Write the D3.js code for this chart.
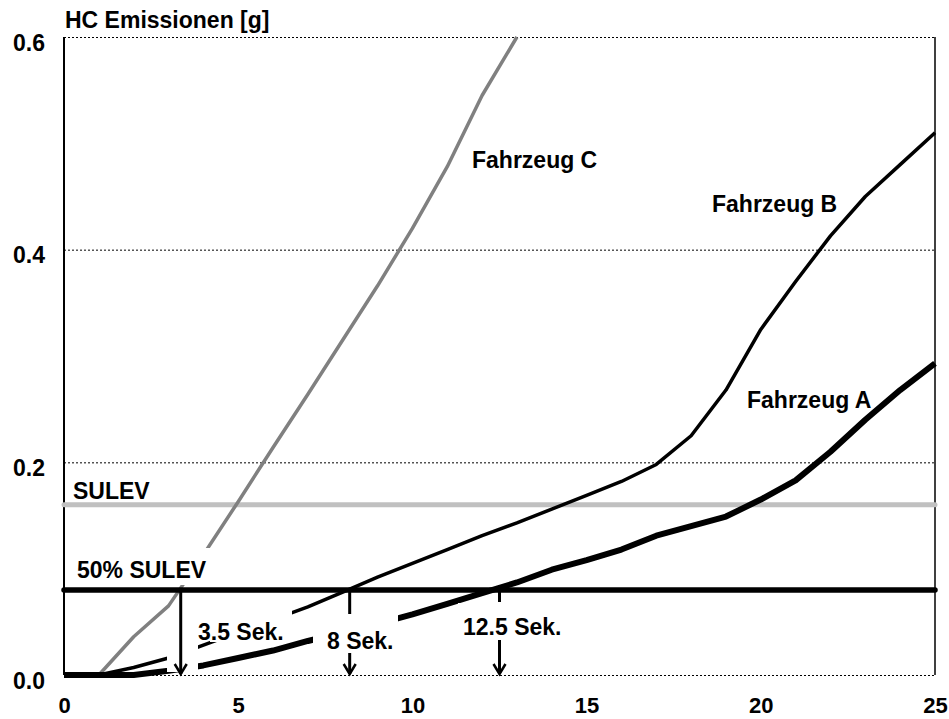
<!DOCTYPE html>
<html>
<head>
<meta charset="utf-8">
<script src="https://cdn.jsdelivr.net/npm/d3@7"></script>
<style>
  body { margin: 0; background: #fff; }
  svg text { font-family: "Liberation Sans", Arial, sans-serif; font-weight: bold; fill: #000; }
</style>
</head>
<body>
<svg id="chart" width="949" height="719"></svg>
<script>
// time in seconds
const seconds = d3.range(0, 26);

const fahrzeugA = [0, 0, 0, 0.004, 0.009, 0.016, 0.023, 0.032, 0.04, 0.048, 0.057, 0.067, 0.077,
  0.087, 0.099, 0.108, 0.118, 0.131, 0.14, 0.149, 0.165, 0.183, 0.21, 0.24, 0.268, 0.293];
const fahrzeugB = [0, 0, 0.007, 0.016, 0.028, 0.04, 0.052, 0.064, 0.078, 0.092, 0.105, 0.118, 0.131,
  0.143, 0.156, 0.169, 0.182, 0.198, 0.225, 0.268, 0.325, 0.37, 0.413, 0.45, 0.48, 0.51];
const fahrzeugC = [0, 0, 0.036, 0.065, 0.113, 0.163, 0.214, 0.264, 0.315, 0.366, 0.42, 0.478, 0.545, 0.6];

const sulev = 0.16;
const halfSulev = 0.08;

const crossTimes = [3.35, 8.2, 12.5];
const crossLabels = ["3.5 Sek.", "8 Sek.", "12.5 Sek."];

const yTicks = [0, 0.2, 0.4, 0.6];
const xTicks = [0, 5, 10, 15, 20, 25];

const svg = d3.select("#chart");
const margin = { top: 37, right: 14, bottom: 44, left: 64 };
const width = 949;
const height = 719;

const x = d3.scaleLinear().domain([0, 25]).range([margin.left, width - margin.right]);
const y = d3.scaleLinear().domain([0, 0.6]).range([height - margin.bottom, margin.top]);

// dotted grid lines (incl. top and bottom border)
svg.append("g")
  .selectAll("line")
  .data(yTicks)
  .join("line")
  .attr("x1", x(0))
  .attr("x2", x(25))
  .attr("y1", (d) => y(d) + 0.5)
  .attr("y2", (d) => y(d) + 0.5)
  .attr("stroke", "#000")
  .attr("stroke-width", 1)
  .attr("stroke-dasharray", "2,2");

// left and right border
svg.append("line")
  .attr("x1", x(0)).attr("x2", x(0))
  .attr("y1", y(0.6)).attr("y2", y(0))
  .attr("stroke", "#000").attr("stroke-width", 2);
svg.append("line")
  .attr("x1", x(25)).attr("x2", x(25))
  .attr("y1", y(0.6)).attr("y2", y(0))
  .attr("stroke", "#000").attr("stroke-width", 1.5);

// limit lines
svg.append("line")
  .attr("x1", x(0)).attr("x2", x(25))
  .attr("y1", y(sulev)).attr("y2", y(sulev))
  .attr("stroke", "#c0c0c0").attr("stroke-width", 5).attr("stroke-linecap", "round");

const line = d3.line()
  .x((d, i) => x(seconds[i]))
  .y((d) => y(d));

svg.append("path")
  .attr("d", line(fahrzeugC))
  .attr("fill", "none").attr("stroke", "#808080").attr("stroke-width", 3.5)
  .attr("stroke-linejoin", "round");
svg.append("path")
  .attr("d", line(fahrzeugB))
  .attr("fill", "none").attr("stroke", "#000").attr("stroke-width", 3.5)
  .attr("stroke-linejoin", "round");
svg.append("path")
  .attr("d", line(fahrzeugA))
  .attr("fill", "none").attr("stroke", "#000").attr("stroke-width", 6)
  .attr("stroke-linejoin", "round");

// white boxes behind the annotation labels
const boxes = [
  [72, 548, 140, 37],
  [167, 645, 31, 27],
  [210, 608, 82, 34],
  [313, 613, 85, 39],
  [458, 603, 112, 38],
];
svg.append("g")
  .selectAll("rect")
  .data(boxes)
  .join("rect")
  .attr("x", (d) => d[0]).attr("y", (d) => d[1])
  .attr("width", (d) => d[2]).attr("height", (d) => d[3])
  .attr("fill", "#fff");

svg.append("line")
  .attr("x1", x(0)).attr("x2", x(25))
  .attr("y1", y(halfSulev)).attr("y2", y(halfSulev))
  .attr("stroke", "#000").attr("stroke-width", 5.5).attr("stroke-linecap", "round");

// arrows from the 50% SULEV crossing down to the time axis
const labelGaps = [null, [615, 653], [603, 640]];
const arrows = svg.append("g");
crossTimes.forEach((t, i) => {
  const ax = x(t);
  const gap = labelGaps[i];
  const segs = gap ? [[y(halfSulev), gap[0]], [gap[1], y(0)]] : [[y(halfSulev), y(0)]];
  segs.forEach(([a, b]) => {
    arrows.append("line")
      .attr("x1", ax).attr("x2", ax).attr("y1", a).attr("y2", b - 1)
      .attr("stroke", "#000").attr("stroke-width", 3);
  });
  arrows.append("path")
    .attr("d", `M${ax - 6},${y(0) - 11}L${ax},${y(0) - 1}L${ax + 6},${y(0) - 11}`)
    .attr("fill", "none").attr("stroke", "#000").attr("stroke-width", 2.5);
});

// axes
const yAxis = svg.append("g")
  .attr("transform", `translate(${margin.left},0)`)
  .call(d3.axisLeft(y).tickValues(yTicks).tickSize(0).tickFormat(d3.format(".1f")));
yAxis.select(".domain").remove();
yAxis.selectAll("text")
  .attr("x", -19).attr("dy", 13)
  .style("font-size", "23px")
  .style("font-family", "'Liberation Sans', Arial, sans-serif");

const xAxis = svg.append("g")
  .attr("transform", `translate(0,${y(0)})`)
  .call(d3.axisBottom(x).tickValues(xTicks).tickSize(0).tickFormat(d3.format("d")));
xAxis.select(".domain").remove();
xAxis.selectAll("text")
  .attr("y", 38).attr("dy", 0)
  .style("font-size", "22px")
  .style("font-family", "'Liberation Sans', Arial, sans-serif");

// texts
const labels = [
  ["HC Emissionen [g]", 65, 28],
  ["Fahrzeug C", 472, 168],
  ["Fahrzeug B", 712, 212],
  ["Fahrzeug A", 747, 408],
  ["SULEV", 73, 499],
  ["50% SULEV", 77, 578],
  [crossLabels[0], 198, 640],
  [crossLabels[1], 327, 649],
  [crossLabels[2], 463, 635],
];
svg.append("g")
  .selectAll("text")
  .data(labels)
  .join("text")
  .attr("x", (d) => d[1])
  .attr("y", (d) => d[2])
  .style("font-size", "23px")
  .text((d) => d[0]);
</script>
</body>
</html>
